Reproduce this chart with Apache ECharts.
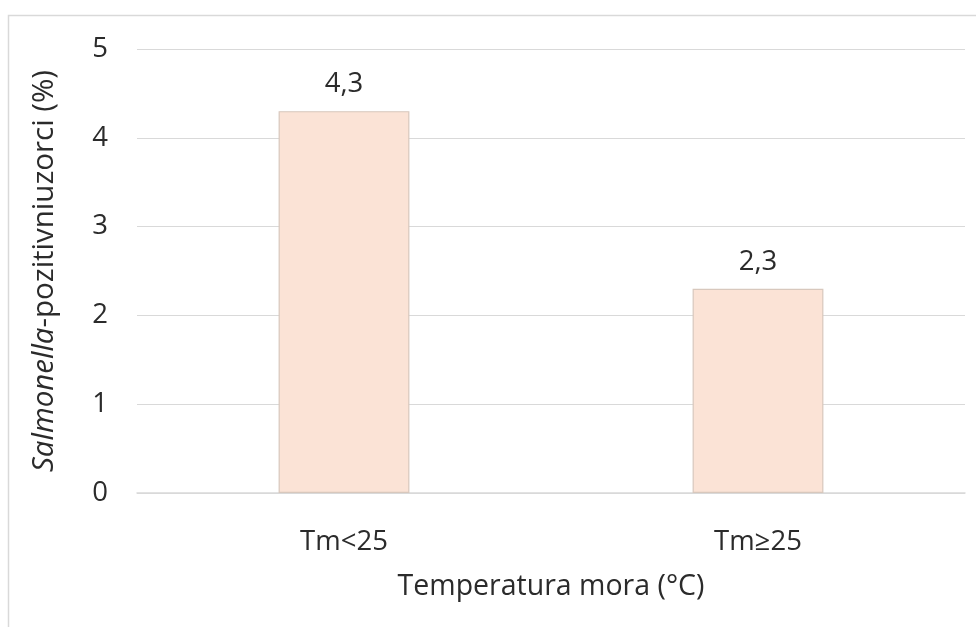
<!DOCTYPE html>
<html>
<head>
<meta charset="utf-8">
<script src="https://cdn.jsdelivr.net/npm/echarts@6/dist/echarts.min.js"></script>
<style>html,body{margin:0;padding:0;background:#fff}#c{width:976px;height:627px}</style>
</head>
<body>
<div id="c"></div>
<script>
var categories = ['Tm<25', 'Tm≥25'];
var values = [4.3, 2.3];
var valueLabels = ['4,3', '2,3'];
var yTicks = [0, 1, 2, 3, 4, 5];

var chart = echarts.init(document.getElementById('c'), null, {renderer: 'canvas'});
var font = '"Open Sans", "Noto Sans", sans-serif';
var fs = 27.5;
var txt = '#2b2b2b';
chart.setOption({
  animation: false,
  textStyle: {fontFamily: font},
  graphic: [{
    type: 'rect', silent: true,
    shape: {x: 8.5, y: 15.5, width: 1000, height: 700},
    style: {fill: 'none', stroke: '#d9d9d9', lineWidth: 1.5}
  }],
  grid: {left: 137, right: 11, top: 49, bottom: 134},
  xAxis: {
    type: 'category', data: categories,
    axisTick: {show: false},
    axisLine: {lineStyle: {color: '#d9d9d9', width: 1.5}},
    axisLabel: {fontSize: fs, color: txt, margin: 35, fontFamily: font},
    name: 'Temperatura mora (°C)', nameLocation: 'middle', nameGap: 79,
    nameTextStyle: {fontSize: 28.5, color: txt, fontFamily: font}
  },
  yAxis: {
    type: 'value', min: 0, max: 5, interval: 1,
    axisLabel: {fontSize: fs, color: txt, margin: 29, fontFamily: font,
      formatter: function (v) { return yTicks.indexOf(v) >= 0 ? String(v) : ''; }},
    splitLine: {lineStyle: {color: '#d9d9d9', width: 1.2}},
    axisLine: {show: false}, axisTick: {show: false},
    name: '{i|Salmonella}{n|-pozitivniuzorci (%)}', nameLocation: 'middle', nameGap: 77, nameRotate: 90,
    nameTextStyle: {rich: {
      i: {fontSize: 29.5, color: txt, fontStyle: 'italic', fontFamily: font},
      n: {fontSize: 29.5, color: txt, fontFamily: font}
    }}
  },
  series: [{
    type: 'bar', data: values, barWidth: '31.6%',
    itemStyle: {color: '#fbe3d6', borderColor: '#d8c8bd', borderWidth: 1.2},
    label: {show: true, position: 'top', distance: 13, fontSize: fs, color: txt, fontFamily: font,
      formatter: function (p) { return valueLabels[p.dataIndex]; }}
  }]
});
</script>
</body>
</html>
